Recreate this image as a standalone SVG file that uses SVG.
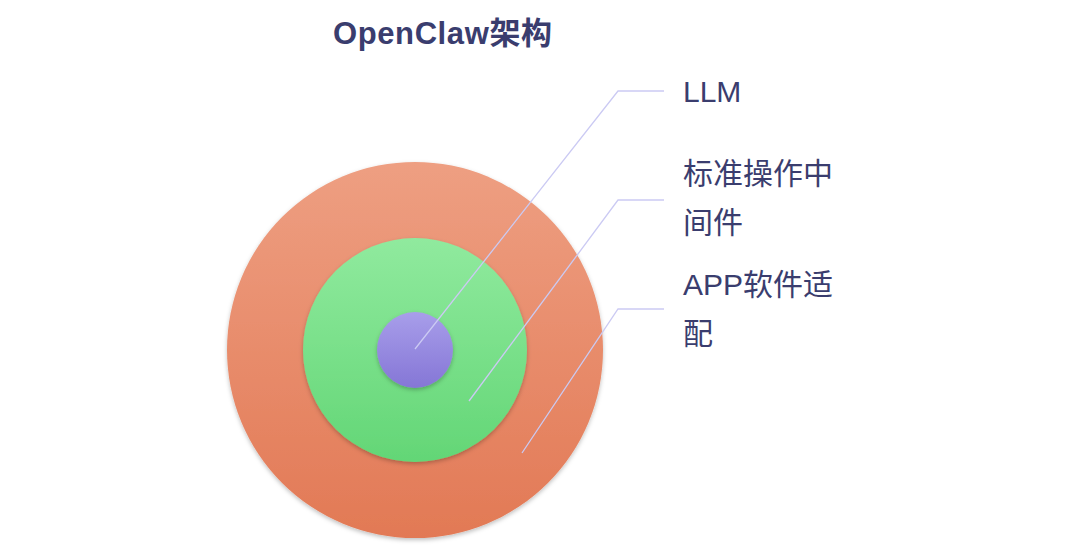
<svg xmlns="http://www.w3.org/2000/svg" width="1080" height="546" viewBox="0 0 1080 546">
<defs>
<linearGradient id="gOuter" x1="0" y1="0" x2="0" y2="1"><stop offset="0" stop-color="#ee9f82"/><stop offset="1" stop-color="#e27955"/></linearGradient>
<linearGradient id="gMid" x1="0" y1="0" x2="0" y2="1"><stop offset="0" stop-color="#90ea9e"/><stop offset="1" stop-color="#63d676"/></linearGradient>
<linearGradient id="gIn" x1="0" y1="0" x2="0" y2="1"><stop offset="0" stop-color="#a89eea"/><stop offset="1" stop-color="#8576d6"/></linearGradient>
<filter id="sh" x="-20%" y="-20%" width="140%" height="140%"><feDropShadow dx="0" dy="2" stdDeviation="2" flood-color="#000" flood-opacity="0.25"/></filter>
</defs>
<style>
.t{font-family:"Liberation Sans","Noto Sans CJK SC",sans-serif;fill:#3a3d6e}
.title{font-size:31px;font-weight:bold}
.lbl{font-size:30px}
.ld{fill:none;stroke:#cbcaf3;stroke-width:1.3}
</style>
<rect width="1080" height="546" fill="#ffffff"/>
<text id="title" class="t title" x="333" y="44" textLength="219" lengthAdjust="spacing">OpenClaw架构</text>
<g id="outer"><circle cx="415" cy="350" r="188" fill="url(#gOuter)" filter="url(#sh)"/></g>
<g id="middle"><circle cx="415" cy="350" r="112" fill="url(#gMid)" filter="url(#sh)"/></g>
<g id="inner"><circle cx="415" cy="350" r="38" fill="url(#gIn)" filter="url(#sh)"/></g>
<g id="connectors">
<polyline class="ld" points="415,349 618,91 664,91"/>
<polyline class="ld" points="469,401 618,200 664,200"/>
<polyline class="ld" points="522,453 618,309 664,309"/>
</g>
<g id="label-llm"><text class="t lbl" x="683" y="102">LLM</text></g>
<g id="label-mid"><text class="t lbl" x="683" y="184">标准操作中</text><text class="t lbl" x="683" y="233">间件</text></g>
<g id="label-app"><text class="t lbl" x="683" y="295">APP软件适</text><text class="t lbl" x="683" y="344">配</text></g>
</svg>
